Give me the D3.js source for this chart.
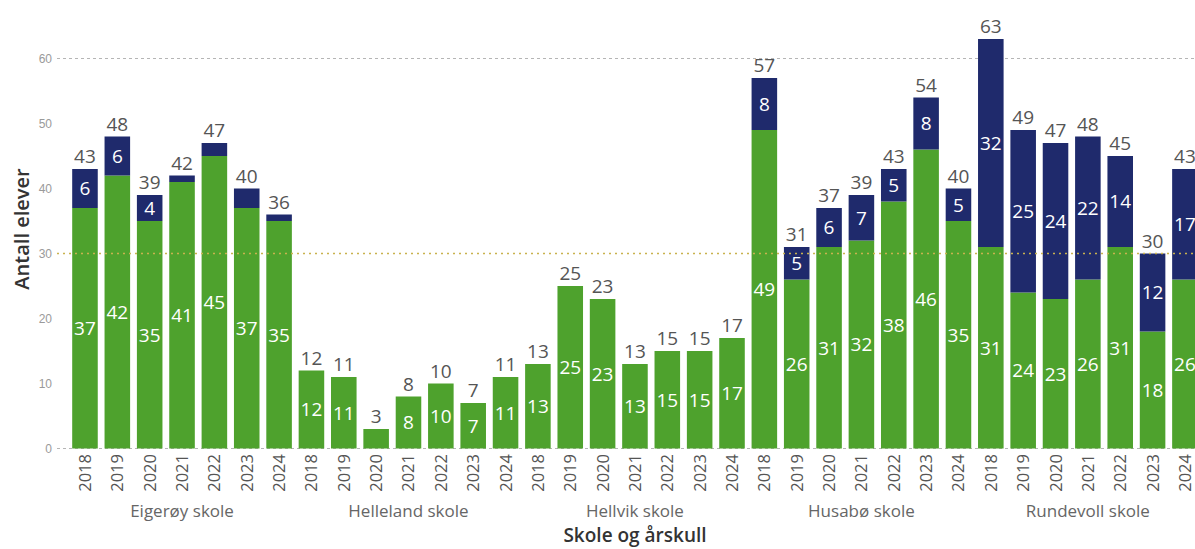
<!DOCTYPE html>
<html>
<head>
<meta charset="utf-8">
<script src="https://cdn.jsdelivr.net/npm/d3@7"></script>
<style>
  body { margin: 0; background: #fff; }
  svg { display: block; font-family: "Open Sans", "Noto Sans", sans-serif; }
</style>
</head>
<body>
<div id="chart"></div>
<script>
// skoler og årskull
const schools = ['Eigerøy skole', 'Helleland skole', 'Hellvik skole', 'Husabø skole', 'Rundevoll skole'];
const years = ['2018', '2019', '2020', '2021', '2022', '2023', '2024'];

// grønn del (nederst) per skole, 2018-2024
const greenValues = [
  [37, 42, 35, 41, 45, 37, 35],
  [12, 11, 3, 8, 10, 7, 11],
  [13, 25, 23, 13, 15, 15, 17],
  [49, 26, 31, 32, 38, 46, 35],
  [31, 24, 23, 26, 31, 18, 26]
];
// blå del (øverst)
const navyValues = [
  [6, 6, 4, 1, 2, 3, 1],
  [0, 0, 0, 0, 0, 0, 0],
  [0, 0, 0, 0, 0, 0, 0],
  [8, 5, 6, 7, 5, 8, 5],
  [32, 25, 24, 22, 14, 12, 17]
];
const yTicks = [0, 10, 20, 30, 40, 50, 60];
const refLine = 30;

const colors = {
  green: '#4ea22d',
  navy: '#1f2a6c',
  total: '#555555',
  inside: '#ffffff',
  tick: '#9a9a9a',
  grid: '#b5b5b5',
  ref: '#c9b24e',
  title: '#333333'
};

const width = 1195;
const height = 549;

// flat liste med søyler
const rows = [];
schools.forEach((s, si) => {
  years.forEach((y, yi) => {
    rows.push({
      key: s + '|' + y,
      school: s,
      year: y,
      green: greenValues[si][yi],
      navy: navyValues[si][yi]
    });
  });
});

const x = d3.scaleBand()
  .domain(rows.map(d => d.key))
  .range([68.8, 1201.1])
  .paddingInner(0.21)
  .paddingOuter(0.105);

const y = d3.scaleLinear()
  .domain([0, 60])
  .range([448.5, 58.5]);

const svg = d3.select('#chart')
  .append('svg')
  .attr('width', width)
  .attr('height', height);

// rutenett: bare 0 og 60
svg.append('g')
  .selectAll('line')
  .data([0, 60])
  .enter()
  .append('line')
  .attr('x1', 57)
  .attr('x2', width)
  .attr('y1', d => y(d))
  .attr('y2', d => y(d))
  .attr('stroke', colors.grid)
  .attr('stroke-width', 1)
  .attr('stroke-dasharray', '3,3');

// y-akse tekst
const yAxis = svg.append('g')
  .attr('transform', 'translate(52,0)')
  .call(d3.axisLeft(y).tickValues(yTicks).tickSize(0).tickPadding(0));
yAxis.select('.domain').remove();
yAxis.selectAll('text')
  .attr('fill', colors.tick)
  .style('font-size', '12px');

// søyler
const bars = svg.append('g');
bars.selectAll('rect.green')
  .data(rows)
  .enter()
  .append('rect')
  .attr('class', 'green')
  .attr('x', d => x(d.key))
  .attr('width', x.bandwidth())
  .attr('y', d => y(d.green))
  .attr('height', d => y(0) - y(d.green))
  .attr('fill', colors.green);

bars.selectAll('rect.navy')
  .data(rows.filter(d => d.navy > 0))
  .enter()
  .append('rect')
  .attr('class', 'navy')
  .attr('x', d => x(d.key))
  .attr('width', x.bandwidth())
  .attr('y', d => y(d.green + d.navy))
  .attr('height', d => y(d.green) - y(d.green + d.navy))
  .attr('fill', colors.navy);

// referanselinje (30)
svg.append('line')
  .attr('x1', 57)
  .attr('x2', width)
  .attr('y1', y(refLine))
  .attr('y2', y(refLine))
  .attr('stroke', colors.ref)
  .attr('stroke-width', 1.5)
  .attr('stroke-dasharray', '2,4');

// etiketter inni segmentene
const minPx = 22;
const labels = svg.append('g')
  .attr('text-anchor', 'middle')
  .style('font-size', '19px');

labels.selectAll('text.g')
  .data(rows.filter(d => y(0) - y(d.green) >= minPx))
  .enter()
  .append('text')
  .attr('x', d => x(d.key) + x.bandwidth() / 2)
  .attr('y', d => y(d.green / 2))
  .attr('dy', '0.36em')
  .attr('fill', colors.inside)
  .text(d => d.green);

labels.selectAll('text.n')
  .data(rows.filter(d => d.navy > 0 && y(d.green) - y(d.green + d.navy) >= minPx))
  .enter()
  .append('text')
  .attr('x', d => x(d.key) + x.bandwidth() / 2)
  .attr('y', d => y(d.green + d.navy / 2))
  .attr('dy', '0.36em')
  .attr('fill', colors.inside)
  .text(d => d.navy);

// totalsum over søylene
labels.selectAll('text.t')
  .data(rows)
  .enter()
  .append('text')
  .attr('x', d => x(d.key) + x.bandwidth() / 2)
  .attr('y', d => y(d.green + d.navy) - 6)
  .attr('fill', colors.total)
  .text(d => d.green + d.navy);

// årstall (rotert)
svg.append('g')
  .selectAll('text')
  .data(rows)
  .enter()
  .append('text')
  .attr('transform', d => `translate(${x(d.key) + x.bandwidth() / 2 + 6},454) rotate(-90)`)
  .attr('text-anchor', 'end')
  .attr('fill', colors.total)
  .style('font-size', '16.5px')
  .text(d => d.year);

// skolenavn
svg.append('g')
  .selectAll('text')
  .data(schools)
  .enter()
  .append('text')
  .attr('x', s => {
    const keys = years.map(yr => s + '|' + yr);
    return (x(keys[0]) + x(keys[keys.length - 1]) + x.bandwidth()) / 2;
  })
  .attr('y', 517)
  .attr('text-anchor', 'middle')
  .attr('fill', '#666')
  .style('font-size', '17px')
  .text(s => s);

// aksetitler
svg.append('text')
  .attr('x', 635)
  .attr('y', 542)
  .attr('text-anchor', 'middle')
  .attr('fill', colors.title)
  .style('font-size', '19px')
  .style('font-weight', 600)
  .text('Skole og årskull');

svg.append('text')
  .attr('transform', 'translate(29,229) rotate(-90)')
  .attr('text-anchor', 'middle')
  .attr('fill', colors.title)
  .style('font-size', '20px')
  .style('font-weight', 600)
  .text('Antall elever');
</script>
</body>
</html>
